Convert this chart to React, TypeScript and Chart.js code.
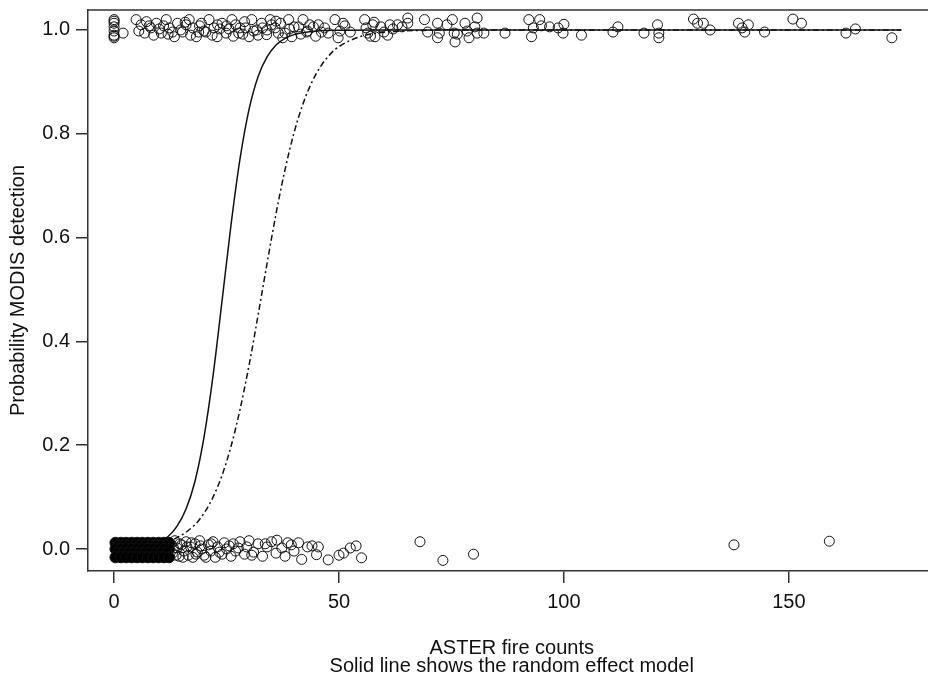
import { useEffect, useRef } from 'react';
import { Chart, registerables } from 'chart.js';

Chart.register(...registerables);

const FONT = "'Liberation Sans', Arial, Helvetica, sans-serif";

const X_TICKS = [0, 50, 100, 150];
const Y_TICKS = [0, 0.2, 0.4, 0.6, 0.8, 1.0];
const X_TITLE = ['ASTER fire counts', 'Solid line shows the random effect model'];
const Y_TITLE = 'Probability MODIS detection';

// Observations with MODIS detection (jittered around 1)
const TOP_X = [
  0, 0, 0, 0, 0, 0, 2.0, 4.9, 5.5, 6.0, 6.8, 7.2, 8.2, 8.8, 9.4, 10.0, 10.5, 11.0, 11.6, 12.3,
  13.0, 13.4, 14.1, 14.8, 15.2, 16.0, 16.7, 17.0, 17.5, 18.3, 19.0, 19.4, 20.0, 20.4, 21.1, 21.8,
  22.2, 22.9, 23.0, 24.0, 24.9, 25.5, 26.2, 26.5, 27.0, 27.7, 28.0, 29.0, 29.2, 30.0, 30.6, 31.0,
  31.7, 32.0, 32.8, 33.0, 33.9, 35.0, 34.7, 35.8, 36.5, 37.0, 37.5, 38.0, 38.8, 39.5, 40.0, 41.0,
  41.5, 42.0, 42.8, 43.5, 44.3, 44.8, 45.4, 46.1, 47.6, 49.1, 49.8, 50.9, 51.3, 52.5, 55.7, 56.0,
  56.4, 57.0, 57.5, 58.0, 59.3, 60.0, 60.8, 61.3, 63.0, 64.0, 65.3, 65.3, 69.0, 69.7, 71.9, 72.3,
  71.9, 74.0, 75.2, 75.6, 75.8, 76.3, 78.0, 78.5, 78.9, 80.7, 80.2, 80.7, 82.2, 86.9, 92.2, 93.2,
  92.8, 94.6, 95.0, 96.8, 98.7, 100.0, 99.8, 103.9, 110.9, 112.0, 117.8, 120.8, 121.1, 121.1, 128.8, 129.7,
  131.0, 132.5, 138.8, 139.6, 140.2, 141.0, 144.6, 150.9, 152.8, 162.7, 164.8, 172.9,
  0, 0, 7.8, 12.0, 15.8, 18.8, 23.5, 25.0, 28.6, 34.0, 36.0, 39.0, 43.0, 46.8, 50.2, 57.8, 62.0,
];
const TOP_Y = [
  1.020, 1.013, 1.006, 0.998, 0.990, 0.985, 0.994, 1.020, 0.998, 1.010, 0.994, 1.016, 1.004, 0.990, 1.013, 1.002, 0.994, 1.008, 1.020, 1.004,
  0.996, 0.987, 1.013, 1.000, 0.996, 1.010, 1.020, 0.990, 1.004, 0.987, 1.008, 1.013, 0.998, 0.996, 1.020, 0.990,
  1.004, 0.987, 1.010, 1.013, 0.994, 1.002, 1.020, 0.988, 1.010, 0.994, 1.004, 1.016, 1.004, 0.987, 1.020, 0.998,
  1.000, 0.990, 1.013, 1.004, 0.991, 1.010, 1.020, 1.004, 0.994, 1.013, 0.985, 0.994, 1.020, 0.987, 1.006, 1.006,
  0.992, 1.020, 0.996, 1.010, 1.006, 0.988, 1.010, 0.996, 0.994, 1.020, 0.985, 1.013, 1.008, 0.996, 1.020, 1.004,
  0.994, 0.988, 1.010, 0.987, 1.006, 0.996, 0.990, 1.010, 1.010, 1.006, 1.023, 1.013, 1.020, 0.996, 1.013, 0.994,
  0.985, 1.010, 1.020, 0.994, 0.977, 0.992, 1.013, 0.998, 0.985, 1.023, 1.006, 0.994, 0.994, 0.994, 1.020, 1.004,
  0.987, 1.020, 1.008, 1.006, 1.004, 1.011, 0.994, 0.990, 0.996, 1.006, 0.994, 1.010, 0.994, 0.985, 1.021, 1.013,
  1.013, 1.000, 1.013, 1.004, 0.996, 1.010, 0.996, 1.021, 1.013, 0.994, 1.002, 0.985,
  1.017, 0.988, 1.008, 0.992, 1.015, 0.996, 1.002, 1.008, 0.992, 1.000, 1.017, 1.002, 0.998, 1.004, 0.998, 1.015, 1.002,
];

// Dense overplotted block of non-detections at small counts
const BLOCK_X = [
  0.3, 1.5, 2.7, 3.9, 5.1, 6.3, 7.5, 8.7, 9.9, 11.1, 12.2,
  0.9, 2.1, 3.3, 4.5, 5.7, 6.9, 8.1, 9.3, 10.5, 11.7,
  0.3, 1.5, 2.7, 3.9, 5.1, 6.3, 7.5, 8.7, 9.9, 11.1, 12.2,
  0.9, 2.1, 3.3, 4.5, 5.7, 6.9, 8.1, 9.3, 10.5, 11.7,
  0.3, 1.5, 2.7, 3.9, 5.1, 6.3, 7.5, 8.7, 9.9, 11.1, 12.2,
];
const BLOCK_Y = [
  0.012, 0.012, 0.012, 0.012, 0.012, 0.012, 0.012, 0.012, 0.012, 0.012, 0.012,
  0.006, 0.006, 0.006, 0.006, 0.006, 0.006, 0.006, 0.006, 0.006, 0.006,
  0.000, 0.000, 0.000, 0.000, 0.000, 0.000, 0.000, 0.000, 0.000, 0.000, 0.000,
  -0.008, -0.008, -0.008, -0.008, -0.008, -0.008, -0.008, -0.008, -0.008, -0.008,
  -0.016, -0.016, -0.016, -0.016, -0.016, -0.016, -0.016, -0.016, -0.016, -0.016, -0.016,
];

// Other non-detections (jittered around 0)
const BOTTOM_X = [
  12.5, 13.0, 13.5, 14.0, 14.5, 15.0, 15.5, 16.0, 16.5, 17.0, 17.5, 18.0, 18.5, 19.0, 19.5, 20.0,
  21.0, 21.5, 22.0, 22.5, 23.0, 24.0, 24.5, 25.0, 26.0, 26.5, 27.0, 28.0, 29.0, 29.5, 30.0, 31.0,
  32.0, 33.0, 34.0, 35.0, 36.0, 36.2, 37.3, 38.0, 39.4, 40.0, 41.0, 41.7, 43.0, 44.0, 45.0, 45.4,
  47.6, 50.0, 51.0, 52.5, 53.8, 55.0, 68.0, 73.1, 79.9, 137.8, 159.0,
  13.2, 13.8, 14.6, 15.3, 16.2, 17.2, 18.2, 19.2, 20.4, 21.6, 23.4, 25.6, 27.6, 30.6, 33.6, 38.6,
];
const BOTTOM_Y = [
  0.010, -0.008, 0.016, 0.002, -0.014, 0.008, -0.004, 0.014, -0.012, 0.004, -0.016, 0.010, -0.006, 0.016, 0.000, -0.012,
  0.008, -0.004, 0.014, -0.016, 0.004, -0.010, 0.012, 0.000, -0.014, 0.010, -0.004, 0.014, -0.010, 0.004, 0.016, -0.006,
  0.010, -0.014, 0.004, 0.014, -0.008, 0.017, 0.002, -0.014, 0.008, -0.004, 0.012, -0.020, 0.004, 0.006, -0.011, 0.004,
  -0.021, -0.012, -0.008, 0.002, 0.006, -0.017, 0.014, -0.022, -0.010, 0.008, 0.015,
  0.002, -0.012, 0.010, -0.016, 0.004, 0.012, -0.010, 0.006, -0.016, 0.010, -0.006, 0.006, 0.002, -0.012, 0.010, 0.012,
];

// Random effect model (solid)
const SOLID_X = [0, 5, 10, 12, 14, 16, 18, 20, 22, 24, 26, 28, 30, 32, 34, 36, 38, 40, 45, 50, 60, 100, 175];
const SOLID_Y = [0.0007, 0.003, 0.0135, 0.024, 0.044, 0.077, 0.131, 0.216, 0.334, 0.478, 0.625, 0.752, 0.847, 0.910, 0.948, 0.971, 0.984, 0.991, 0.998, 0.9995, 1, 1, 1];

// Fixed effect model (dot-dash)
const DASH_X = [0, 5, 10, 14, 18, 20, 22, 24, 26, 28, 30, 32, 34, 36, 38, 40, 42, 44, 46, 48, 50, 55, 60, 70, 80, 175];
const DASH_Y = [0.0014, 0.0037, 0.010, 0.022, 0.047, 0.069, 0.100, 0.142, 0.198, 0.269, 0.354, 0.450, 0.550, 0.646, 0.731, 0.802, 0.858, 0.900, 0.931, 0.953, 0.968, 0.988, 0.9955, 0.9994, 1, 1];

const pts = (xs: number[], ys: number[]) => xs.map((x, i) => ({ x, y: ys[i] }));

const topLine = {
  id: 'topLine',
  afterDraw(chart: any) {
    const { ctx, chartArea } = chart;
    ctx.save();
    ctx.strokeStyle = '#333';
    ctx.lineWidth = 1.5;
    ctx.beginPath();
    ctx.moveTo(chartArea.left, chartArea.top);
    ctx.lineTo(chartArea.right, chartArea.top);
    ctx.stroke();
    ctx.restore();
  },
};

export default function App() {
  const ref = useRef<HTMLCanvasElement>(null);
  useEffect(() => {
    if (!ref.current) return;
    const circle = {
      pointStyle: 'circle',
      pointRadius: 5,
      pointBorderWidth: 1,
      pointBorderColor: '#111',
      pointBackgroundColor: 'rgba(0,0,0,0)',
      borderColor: '#111',
      backgroundColor: 'rgba(0,0,0,0)',
      showLine: false,
    };
    const chart = new Chart(ref.current, {
      type: 'scatter',
      data: {
        datasets: [
          { ...circle, data: pts(BLOCK_X, BLOCK_Y), pointRadius: 5.5, pointBackgroundColor: '#000', backgroundColor: '#000' } as any,
          { ...circle, data: pts(BOTTOM_X, BOTTOM_Y) } as any,
          { ...circle, data: pts(TOP_X, TOP_Y) } as any,
          {
            type: 'line',
            data: pts(SOLID_X, SOLID_Y),
            borderColor: '#111',
            borderWidth: 1.5,
            pointRadius: 0,
            fill: false,
            cubicInterpolationMode: 'monotone',
          } as any,
          {
            type: 'line',
            data: pts(DASH_X, DASH_Y),
            borderColor: '#111',
            borderWidth: 1.5,
            borderDash: [2, 3, 6, 3],
            pointRadius: 0,
            fill: false,
            cubicInterpolationMode: 'monotone',
          } as any,
        ],
      },
      options: {
        responsive: false,
        devicePixelRatio: 1,
        animation: false,
        layout: { padding: { top: 10, left: 0, right: 0, bottom: 0 } },
        plugins: { legend: { display: false }, tooltip: { enabled: false } },
        scales: {
          x: {
            type: 'linear',
            min: -5.8,
            max: 182.6,
            afterBuildTicks: (s: any) => { s.ticks = X_TICKS.map((v) => ({ value: v })); },
            afterFit: (s: any) => { s.height = 106; s.paddingLeft = 0; s.paddingRight = 0; s.paddingTop = 0; s.paddingBottom = 0; },
            grid: { display: true, drawOnChartArea: false, drawTicks: true, tickLength: 12, color: '#333', lineWidth: 1.5 },
            border: { display: true, color: '#333', width: 1.5 },
            ticks: { font: { family: FONT, size: 20 }, color: '#111', padding: 7, maxRotation: 0, callback: (v: any) => String(v) },
            title: { display: true, text: X_TITLE, font: { family: FONT, size: 20, lineHeight: 0.9 }, color: '#111', padding: { top: 0, bottom: 2 } },
          },
          y: {
            type: 'linear',
            min: -0.0424,
            max: 1.0385,
            afterBuildTicks: (s: any) => { s.ticks = Y_TICKS.map((v) => ({ value: v })); },
            afterFit: (s: any) => { s.width = 88; s.paddingTop = 0; s.paddingBottom = 0; s.paddingLeft = 0; s.paddingRight = 0; },
            grid: { display: true, drawOnChartArea: false, drawTicks: true, tickLength: 12, color: '#333', lineWidth: 1.5 },
            border: { display: true, color: '#333', width: 1.5 },
            ticks: { font: { family: FONT, size: 20 }, color: '#111', padding: 6, callback: (v: any) => Number(v).toFixed(1) },
            title: { display: true, text: Y_TITLE, font: { family: FONT, size: 20, lineHeight: 1 }, color: '#111', padding: { top: 8, bottom: 0 } },
          },
        },
      },
      plugins: [topLine],
    } as any);
    return () => chart.destroy();
  }, []);
  return (
    <div style={{ position: 'absolute', left: 0, top: 0, width: 928, height: 677, overflow: 'hidden', background: '#fff' }}>
      <canvas ref={ref} width={942} height={677} style={{ display: 'block' }} />
    </div>
  );
}
